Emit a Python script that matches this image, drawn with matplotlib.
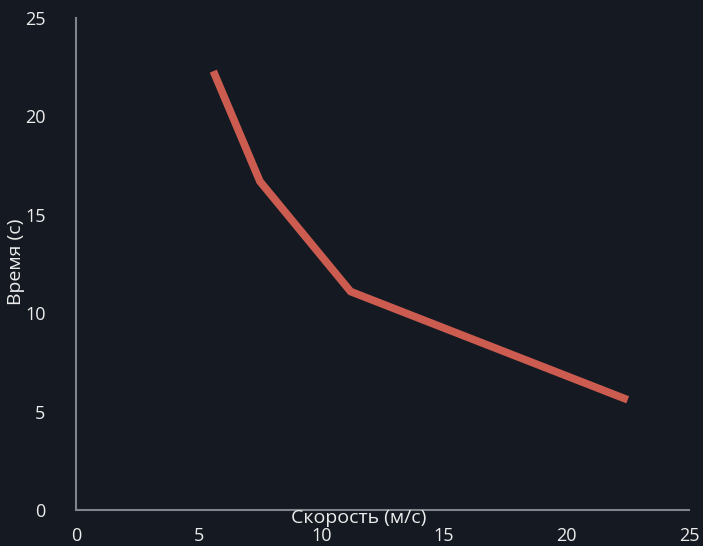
import matplotlib
matplotlib.use("Agg")
import matplotlib.pyplot as plt

# ---- DATA ----
speed = [5.6, 7.5, 11.2, 22.5]
time = [22.3, 16.7, 11.1, 5.6]
ticks = [0, 5, 10, 15, 20, 25]

# ---- STYLE ----
bg = "#151a22"
txt = "#ececec"
axis_col = "#80858c"
line_col = "#cc5b50"
plt.rcParams["font.family"] = ["Open Sans", "DejaVu Sans"]

fig = plt.figure(figsize=(7.03, 5.46), dpi=100, facecolor=bg)
ax = fig.add_axes([76 / 703, 1 - 510 / 546, (689 - 76) / 703, (510 - 18) / 546])
ax.set_facecolor(bg)

ax.plot(speed, time, color=line_col, linewidth=5.5, solid_capstyle="butt", solid_joinstyle="miter")

ax.set_xlim(0, 25)
ax.set_ylim(0, 25)
ax.set_xticks(ticks)
ax.set_yticks(ticks)
ax.tick_params(length=0, colors=txt, labelsize=13)
ax.tick_params(axis="x", pad=12)
ax.tick_params(axis="y", pad=22)

for side in ["top", "right"]:
  ax.spines[side].set_visible(False)
for side in ["left", "bottom"]:
  ax.spines[side].set_color(axis_col)
  ax.spines[side].set_linewidth(1.5)

fig.text(359 / 703, 1 - 518 / 546, "Скорость (м/с)", color=txt, fontsize=14,
         ha="center", va="center")
fig.text(16 / 703, 1 - 262 / 546, "Время (с)", color=txt, fontsize=14,
         ha="center", va="center", rotation=90)

fig.savefig("out.png", dpi=100, facecolor=bg)
